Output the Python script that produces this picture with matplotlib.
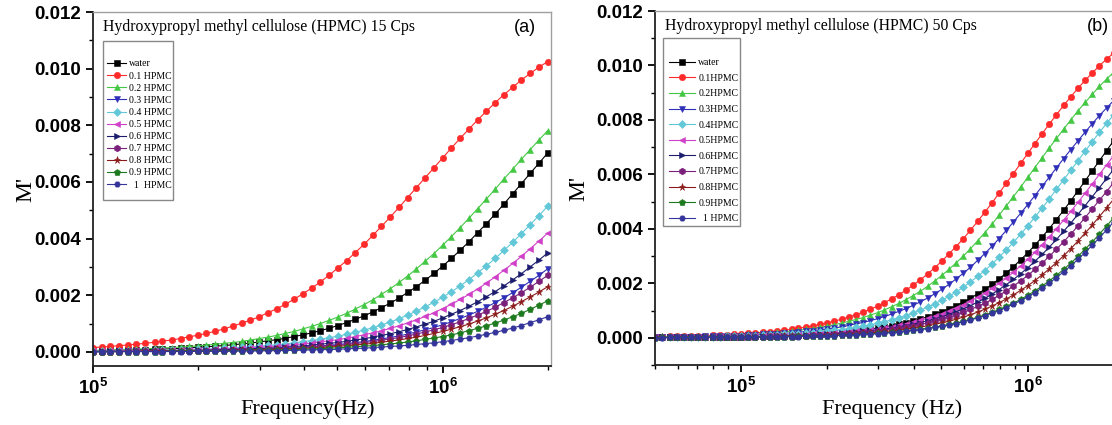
import matplotlib
matplotlib.use('Agg')
import numpy as np
from matplotlib import pyplot as plt
from matplotlib.patches import Rectangle
from matplotlib.ticker import LogLocator, NullFormatter, MultipleLocator, FormatStrFormatter

# Frequências (kHz) - painel (a)
freq_a = [100, 106, 112, 119, 126, 133, 141, 150, 158, 168, 178, 188, 200, 211, 224, 237, 251, 266,
          282, 299, 316, 335, 355, 376, 398, 422, 447, 473, 501, 531, 562, 596, 631, 668, 708, 750,
          794, 841, 891, 944, 1000, 1059, 1122, 1189, 1259, 1334, 1413, 1496, 1585, 1679, 1778, 1884, 1995]
# Frequências (kHz) - painel (b)
freq_b = [50.1, 53.1, 56.2, 59.6, 63.1, 66.8, 70.8, 75.0, 79.4, 84.1, 89.1, 94.4] + freq_a

labels_a = ['water', '0.1 HPMC', '0.2 HPMC', '0.3 HPMC', '0.4 HPMC', '0.5 HPMC',
            '0.6 HPMC', '0.7 HPMC', '0.8 HPMC', '0.9 HPMC', '  1  HPMC']
labels_b = ['water', '0.1HPMC', '0.2HPMC', '0.3HPMC', '0.4HPMC', '0.5HPMC',
            '0.6HPMC', '0.7HPMC', '0.8HPMC', '0.9HPMC', '  1 HPMC']

# M' (x 1e-3) - 15 Cps
a_water = [0.04, 0.04, 0.05, 0.06, 0.06, 0.07, 0.08, 0.09, 0.10, 0.11, 0.12, 0.14, 0.16, 0.18, 0.20, 0.22, 0.25, 0.28,
           0.31, 0.35, 0.39, 0.43, 0.48, 0.54, 0.60, 0.67, 0.75, 0.83, 0.93, 1.03, 1.15, 1.27, 1.41, 1.56, 1.72, 1.90,
           2.10, 2.30, 2.53, 2.77, 3.03, 3.30, 3.59, 3.89, 4.21, 4.53, 4.87, 5.22, 5.58, 5.94, 6.30, 6.66, 7.02]
a_01 = [0.15, 0.17, 0.19, 0.22, 0.24, 0.27, 0.30, 0.34, 0.38, 0.42, 0.47, 0.53, 0.59, 0.65, 0.73, 0.81, 0.91, 1.01,
        1.12, 1.24, 1.38, 1.52, 1.68, 1.86, 2.05, 2.25, 2.47, 2.70, 2.96, 3.22, 3.50, 3.80, 4.11, 4.43, 4.76, 5.10,
        5.45, 5.80, 6.15, 6.50, 6.85, 7.20, 7.54, 7.87, 8.19, 8.50, 8.80, 9.08, 9.34, 9.60, 9.83, 10.05, 10.25]
a_02 = [0.05, 0.06, 0.07, 0.08, 0.09, 0.10, 0.11, 0.12, 0.14, 0.15, 0.17, 0.19, 0.21, 0.24, 0.27, 0.30, 0.33, 0.37,
        0.42, 0.47, 0.52, 0.58, 0.65, 0.72, 0.81, 0.90, 1.00, 1.11, 1.23, 1.36, 1.51, 1.67, 1.84, 2.03, 2.23, 2.45,
        2.68, 2.93, 3.20, 3.47, 3.77, 4.07, 4.39, 4.72, 5.06, 5.40, 5.75, 6.10, 6.45, 6.80, 7.14, 7.48, 7.81]
a_03 = [0.01, 0.01, 0.01, 0.02, 0.02, 0.02, 0.02, 0.02, 0.03, 0.03, 0.03, 0.04, 0.04, 0.05, 0.05, 0.06, 0.07, 0.07,
        0.08, 0.09, 0.11, 0.12, 0.13, 0.15, 0.17, 0.19, 0.21, 0.23, 0.26, 0.29, 0.33, 0.36, 0.41, 0.45, 0.51, 0.56,
        0.63, 0.70, 0.78, 0.86, 0.96, 1.06, 1.18, 1.30, 1.43, 1.58, 1.74, 1.91, 2.09, 2.28, 2.49, 2.70, 2.93]
a_04 = [0.02, 0.03, 0.03, 0.03, 0.04, 0.04, 0.05, 0.05, 0.06, 0.06, 0.07, 0.08, 0.09, 0.10, 0.11, 0.13, 0.14, 0.16,
        0.18, 0.20, 0.23, 0.25, 0.28, 0.32, 0.36, 0.40, 0.44, 0.50, 0.55, 0.62, 0.69, 0.77, 0.85, 0.95, 1.05, 1.17,
        1.30, 1.44, 1.59, 1.75, 1.93, 2.12, 2.33, 2.55, 2.79, 3.04, 3.30, 3.58, 3.87, 4.17, 4.49, 4.81, 5.14]
a_05 = [0.02, 0.02, 0.02, 0.03, 0.03, 0.03, 0.04, 0.04, 0.04, 0.05, 0.06, 0.06, 0.07, 0.08, 0.09, 0.10, 0.11, 0.13,
        0.14, 0.16, 0.18, 0.20, 0.22, 0.25, 0.28, 0.31, 0.35, 0.39, 0.43, 0.48, 0.54, 0.60, 0.67, 0.74, 0.83, 0.92,
        1.02, 1.13, 1.25, 1.38, 1.53, 1.68, 1.85, 2.03, 2.22, 2.43, 2.65, 2.88, 3.12, 3.37, 3.64, 3.91, 4.19]
a_06 = [0.01, 0.02, 0.02, 0.02, 0.02, 0.02, 0.03, 0.03, 0.03, 0.04, 0.04, 0.05, 0.05, 0.06, 0.07, 0.08, 0.09, 0.10,
        0.11, 0.12, 0.13, 0.15, 0.17, 0.19, 0.21, 0.24, 0.27, 0.30, 0.33, 0.37, 0.42, 0.46, 0.52, 0.58, 0.64, 0.71,
        0.79, 0.88, 0.98, 1.08, 1.20, 1.33, 1.46, 1.61, 1.77, 1.95, 2.13, 2.33, 2.54, 2.76, 3.00, 3.24, 3.49]
a_07 = [0.01, 0.01, 0.01, 0.01, 0.02, 0.02, 0.02, 0.02, 0.02, 0.03, 0.03, 0.03, 0.04, 0.04, 0.05, 0.05, 0.06, 0.07,
        0.07, 0.08, 0.09, 0.11, 0.12, 0.13, 0.15, 0.17, 0.19, 0.21, 0.23, 0.26, 0.29, 0.33, 0.36, 0.41, 0.45, 0.51,
        0.56, 0.63, 0.70, 0.78, 0.86, 0.96, 1.06, 1.18, 1.30, 1.43, 1.58, 1.74, 1.91, 2.09, 2.28, 2.49, 2.70]
a_08 = [0.01, 0.01, 0.01, 0.01, 0.01, 0.01, 0.02, 0.02, 0.02, 0.02, 0.02, 0.03, 0.03, 0.03, 0.04, 0.04, 0.05, 0.06,
        0.06, 0.07, 0.08, 0.09, 0.10, 0.11, 0.12, 0.14, 0.15, 0.17, 0.19, 0.22, 0.24, 0.27, 0.30, 0.34, 0.38, 0.42,
        0.47, 0.52, 0.58, 0.65, 0.72, 0.80, 0.89, 0.98, 1.09, 1.20, 1.33, 1.46, 1.61, 1.77, 1.94, 2.11, 2.30]
a_09 = [0.01, 0.01, 0.01, 0.01, 0.01, 0.01, 0.01, 0.01, 0.01, 0.02, 0.02, 0.02, 0.02, 0.03, 0.03, 0.03, 0.04, 0.04,
        0.05, 0.05, 0.06, 0.06, 0.07, 0.08, 0.09, 0.10, 0.11, 0.13, 0.14, 0.16, 0.18, 0.20, 0.22, 0.25, 0.28, 0.31,
        0.35, 0.39, 0.44, 0.49, 0.54, 0.60, 0.67, 0.75, 0.83, 0.92, 1.02, 1.12, 1.24, 1.36, 1.50, 1.65, 1.80]
a_10 = [0.00, 0.00, 0.00, 0.01, 0.01, 0.01, 0.01, 0.01, 0.01, 0.01, 0.01, 0.01, 0.02, 0.02, 0.02, 0.02, 0.02, 0.03,
        0.03, 0.03, 0.04, 0.04, 0.05, 0.05, 0.06, 0.07, 0.08, 0.08, 0.09, 0.11, 0.12, 0.13, 0.15, 0.17, 0.19, 0.21,
        0.23, 0.26, 0.29, 0.32, 0.36, 0.40, 0.45, 0.50, 0.56, 0.62, 0.69, 0.76, 0.84, 0.93, 1.03, 1.13, 1.24]

# M' (x 1e-3) - 50 Cps
b_water = [0.01, 0.01, 0.01, 0.01, 0.02, 0.02, 0.02, 0.02, 0.03, 0.03, 0.03, 0.04, 0.04, 0.05, 0.05, 0.06, 0.06,
           0.07, 0.08, 0.09, 0.10, 0.11, 0.13, 0.14, 0.16, 0.18, 0.20, 0.23, 0.25, 0.28, 0.32, 0.36, 0.40, 0.45,
           0.50, 0.56, 0.62, 0.69, 0.77, 0.86, 0.96, 1.06, 1.18, 1.31, 1.45, 1.61, 1.78, 1.96, 2.16, 2.38, 2.61,
           2.86, 3.12, 3.40, 3.70, 4.01, 4.34, 4.68, 5.03, 5.39, 5.76, 6.13, 6.50, 6.87, 7.24]
b_01 = [0.04, 0.04, 0.05, 0.05, 0.06, 0.06, 0.07, 0.08, 0.09, 0.10, 0.11, 0.13, 0.14, 0.16, 0.18, 0.20, 0.22,
        0.25, 0.28, 0.31, 0.35, 0.39, 0.44, 0.49, 0.55, 0.61, 0.68, 0.76, 0.85, 0.94, 1.05, 1.16, 1.29, 1.43,
        1.58, 1.75, 1.93, 2.13, 2.34, 2.57, 2.81, 3.08, 3.35, 3.64, 3.95, 4.27, 4.61, 4.95, 5.31, 5.67, 6.03,
        6.40, 6.77, 7.13, 7.49, 7.85, 8.19, 8.53, 8.85, 9.16, 9.45, 9.72, 9.99, 10.23, 10.46]
b_02 = [0.03, 0.03, 0.04, 0.04, 0.04, 0.05, 0.06, 0.06, 0.07, 0.08, 0.09, 0.10, 0.11, 0.12, 0.14, 0.16, 0.17,
        0.20, 0.22, 0.25, 0.27, 0.31, 0.34, 0.38, 0.43, 0.48, 0.54, 0.60, 0.67, 0.74, 0.83, 0.92, 1.02, 1.14,
        1.26, 1.40, 1.55, 1.71, 1.89, 2.08, 2.29, 2.51, 2.75, 3.00, 3.27, 3.56, 3.86, 4.17, 4.50, 4.84, 5.18,
        5.53, 5.89, 6.25, 6.61, 6.97, 7.32, 7.66, 8.00, 8.33, 8.64, 8.94, 9.23, 9.50, 9.75]
b_03 = [0.02, 0.02, 0.03, 0.03, 0.03, 0.04, 0.04, 0.05, 0.05, 0.06, 0.07, 0.07, 0.08, 0.09, 0.10, 0.12, 0.13,
        0.15, 0.16, 0.18, 0.21, 0.23, 0.26, 0.29, 0.32, 0.36, 0.40, 0.45, 0.51, 0.56, 0.63, 0.70, 0.78, 0.87,
        0.97, 1.07, 1.19, 1.32, 1.46, 1.61, 1.78, 1.96, 2.16, 2.37, 2.59, 2.84, 3.09, 3.36, 3.64, 3.94, 4.25,
        4.57, 4.89, 5.22, 5.56, 5.90, 6.24, 6.58, 6.91, 7.23, 7.55, 7.86, 8.16, 8.44, 8.71]
b_04 = [0.02, 0.02, 0.02, 0.02, 0.02, 0.03, 0.03, 0.03, 0.04, 0.04, 0.05, 0.05, 0.06, 0.07, 0.08, 0.09, 0.10,
        0.11, 0.12, 0.14, 0.15, 0.17, 0.19, 0.22, 0.24, 0.27, 0.30, 0.34, 0.38, 0.42, 0.47, 0.53, 0.59, 0.65,
        0.73, 0.81, 0.91, 1.01, 1.12, 1.24, 1.38, 1.52, 1.68, 1.86, 2.05, 2.25, 2.47, 2.70, 2.96, 3.22, 3.50,
        3.80, 4.11, 4.43, 4.76, 5.10, 5.45, 5.80, 6.15, 6.50, 6.85, 7.20, 7.54, 7.87, 8.19]
b_05 = [0.01, 0.01, 0.01, 0.01, 0.02, 0.02, 0.02, 0.02, 0.02, 0.03, 0.03, 0.03, 0.04, 0.04, 0.05, 0.05, 0.06,
        0.07, 0.08, 0.08, 0.09, 0.11, 0.12, 0.13, 0.15, 0.17, 0.19, 0.21, 0.24, 0.26, 0.29, 0.33, 0.37, 0.41,
        0.46, 0.51, 0.57, 0.64, 0.71, 0.79, 0.88, 0.98, 1.09, 1.21, 1.34, 1.49, 1.64, 1.81, 2.00, 2.19, 2.41,
        2.64, 2.88, 3.14, 3.42, 3.71, 4.01, 4.32, 4.64, 4.97, 5.31, 5.65, 6.00, 6.35, 6.69]
b_06 = [0.01, 0.01, 0.01, 0.01, 0.01, 0.01, 0.02, 0.02, 0.02, 0.02, 0.03, 0.03, 0.03, 0.04, 0.04, 0.05, 0.05,
        0.06, 0.07, 0.07, 0.08, 0.09, 0.10, 0.12, 0.13, 0.15, 0.16, 0.18, 0.20, 0.23, 0.26, 0.29, 0.32, 0.36,
        0.40, 0.45, 0.50, 0.56, 0.62, 0.69, 0.77, 0.86, 0.96, 1.06, 1.18, 1.31, 1.45, 1.60, 1.77, 1.95, 2.14,
        2.35, 2.57, 2.81, 3.06, 3.33, 3.61, 3.91, 4.21, 4.53, 4.85, 5.18, 5.51, 5.85, 6.19]
b_07 = [0.01, 0.01, 0.01, 0.01, 0.01, 0.01, 0.01, 0.02, 0.02, 0.02, 0.02, 0.03, 0.03, 0.03, 0.04, 0.04, 0.05,
        0.05, 0.06, 0.06, 0.07, 0.08, 0.09, 0.10, 0.11, 0.13, 0.14, 0.16, 0.18, 0.20, 0.22, 0.25, 0.28, 0.31,
        0.35, 0.39, 0.44, 0.49, 0.54, 0.61, 0.68, 0.75, 0.84, 0.93, 1.04, 1.15, 1.27, 1.41, 1.56, 1.72, 1.90,
        2.09, 2.29, 2.51, 2.74, 2.99, 3.25, 3.52, 3.81, 4.10, 4.41, 4.73, 5.05, 5.37, 5.70]
b_08 = [0.01, 0.01, 0.01, 0.01, 0.01, 0.01, 0.01, 0.01, 0.01, 0.02, 0.02, 0.02, 0.02, 0.03, 0.03, 0.03, 0.04,
        0.04, 0.05, 0.05, 0.06, 0.06, 0.07, 0.08, 0.09, 0.10, 0.11, 0.13, 0.14, 0.16, 0.18, 0.20, 0.23, 0.25,
        0.28, 0.32, 0.35, 0.39, 0.44, 0.49, 0.55, 0.61, 0.68, 0.76, 0.85, 0.94, 1.05, 1.16, 1.29, 1.42, 1.57,
        1.74, 1.91, 2.10, 2.31, 2.53, 2.76, 3.01, 3.27, 3.55, 3.84, 4.14, 4.45, 4.77, 5.09]
b_09 = [0.00, 0.01, 0.01, 0.01, 0.01, 0.01, 0.01, 0.01, 0.01, 0.01, 0.01, 0.02, 0.02, 0.02, 0.02, 0.03, 0.03,
        0.03, 0.04, 0.04, 0.05, 0.05, 0.06, 0.06, 0.07, 0.08, 0.09, 0.10, 0.11, 0.13, 0.14, 0.16, 0.18, 0.20,
        0.22, 0.25, 0.28, 0.31, 0.35, 0.39, 0.44, 0.49, 0.54, 0.61, 0.68, 0.75, 0.84, 0.93, 1.04, 1.15, 1.27,
        1.41, 1.56, 1.72, 1.90, 2.09, 2.29, 2.51, 2.74, 2.99, 3.25, 3.52, 3.81, 4.10, 4.41]
b_10 = [0.00, 0.00, 0.01, 0.01, 0.01, 0.01, 0.01, 0.01, 0.01, 0.01, 0.01, 0.02, 0.02, 0.02, 0.02, 0.02, 0.03,
        0.03, 0.03, 0.04, 0.04, 0.05, 0.05, 0.06, 0.07, 0.08, 0.09, 0.10, 0.11, 0.12, 0.14, 0.15, 0.17, 0.19,
        0.22, 0.24, 0.27, 0.30, 0.34, 0.38, 0.42, 0.47, 0.52, 0.59, 0.65, 0.73, 0.81, 0.90, 1.00, 1.11, 1.23,
        1.36, 1.50, 1.66, 1.83, 2.01, 2.21, 2.42, 2.64, 2.88, 3.13, 3.40, 3.67, 3.96, 4.26]

series_a = [a_water, a_01, a_02, a_03, a_04, a_05, a_06, a_07, a_08, a_09, a_10]
series_b = [b_water, b_01, b_02, b_03, b_04, b_05, b_06, b_07, b_08, b_09, b_10]

# Estilo (cores e símbolos no padrão Origin)
cores = ['#000000', '#FF2A2A', '#44C844', '#2E2EB8', '#62C8D8', '#D040C8',
         '#1C1C6E', '#7A1F7A', '#8B1A1A', '#1E7A1E', '#34349A']
simbolos = ['s', 'o', '^', 'v', 'D', '<', '>', 'h', '*', 'p', 'H']
tamanhos = [4.0, 4.6, 4.8, 4.8, 3.9, 4.8, 4.8, 4.8, 5.2, 4.8, 4.3]

plt.rcParams['font.family'] = ['Liberation Sans', 'DejaVu Sans']
plt.rcParams['font.weight'] = 'bold'
plt.rcParams['mathtext.fontset'] = 'custom'
plt.rcParams['mathtext.bf'] = 'Liberation Sans:bold'
plt.rcParams['mathtext.rm'] = 'Liberation Sans:bold'

fig = plt.figure(figsize=(11.12, 4.25), dpi=100)
ax_a = fig.add_axes([0.0836, 0.1388, 0.4119, 0.8329])
ax_b = fig.add_axes([0.589, 0.1412, 0.4128, 0.8329])

serif = 'Liberation Serif'

def desenha(ax, freq, series, labels, xlim, ylim, titulo, letra, caixa, leg_pos, leg_sp, leg_hl,
            xlab, xlab_pos, ylab_x, letra_x):
    f = np.array(freq) * 1e3
    for y, c, m, ms, lb in zip(series, cores, simbolos, tamanhos, labels):
        ax.plot(f, np.array(y) * 1e-3, color=c, marker=m, markersize=ms, markeredgewidth=0.4,
                markeredgecolor=c, lw=0.8, label=lb)
    ax.set_xscale('log')
    ax.set_xlim(*xlim)
    ax.set_ylim(*ylim)
    ax.set_xticks([1e5, 1e6], labels=[r'$\mathbf{10^{5}}$', r'$\mathbf{10^{6}}$'])
    ax.xaxis.set_minor_locator(LogLocator(base=10, subs=np.arange(2, 10)))
    ax.xaxis.set_minor_formatter(NullFormatter())
    ax.yaxis.set_major_locator(MultipleLocator(0.002))
    ax.yaxis.set_minor_locator(MultipleLocator(0.001))
    ax.yaxis.set_major_formatter(FormatStrFormatter('%.3f'))
    ax.tick_params(which='major', direction='out', length=5, width=1.3, labelsize=13.5)
    ax.tick_params(which='minor', direction='out', length=3, width=1.0)
    ax.tick_params(top=False, right=False, which='both')
    for s in ['left', 'bottom']:
        ax.spines[s].set_linewidth(1.3)
        ax.spines[s].set_color('#222222')
    for s in ['top', 'right']:
        ax.spines[s].set_linewidth(1.0)
        ax.spines[s].set_color('#A0A0A0')
    ax.set_ylabel("M'", fontfamily=serif, fontweight='normal', fontsize=17)
    ax.yaxis.set_label_coords(ylab_x, 0.5)
    ax.set_xlabel(xlab, fontfamily=serif, fontweight='normal', fontsize=16)
    ax.xaxis.set_label_coords(*xlab_pos)
    ax.text(0.022, 0.958, titulo, transform=ax.transAxes, fontfamily=serif, fontweight='normal',
            fontsize=11.3, va='center', ha='left')
    ax.text(letra_x, 0.955, letra, transform=ax.transAxes, fontweight='normal', fontsize=13,
            va='center', ha='center')
    # caixa da legenda (estilo Origin, com folga no topo)
    x0, y0, x1, y1 = caixa
    ax.add_patch(Rectangle((x0, y0), x1 - x0, y1 - y0, transform=ax.transAxes, facecolor='white',
                           edgecolor='#888888', lw=1.0, zorder=4))
    leg = ax.legend(loc='upper left', bbox_to_anchor=leg_pos, prop={'family': serif, 'size': 7, 'weight': 'normal'},
                    frameon=False, handlelength=leg_hl, handletextpad=0.3,
                    labelspacing=leg_sp, borderpad=0, borderaxespad=0)
    leg.set_zorder(5)

desenha(ax_a, freq_a, series_a, labels_a, (1e5, 2.04e6), (-0.0005, 0.012),
        'Hydroxypropyl methyl cellulose (HPMC) 15 Cps', '(a)',
        (0.0218, 0.469, 0.1747, 0.918), (0.0306, 0.866), 0.32, 2.0,
        'Frequency(Hz)', (0.469, -0.094), -0.124, 0.943)
desenha(ax_b, freq_b, series_b, labels_b, (5e4, 2e6), (-0.001, 0.012),
        'Hydroxypropyl methyl cellulose (HPMC) 50 Cps', '(b)',
        (0.0174, 0.393, 0.185, 0.924), (0.0305, 0.867), 0.68, 2.7,
        'Frequency (Hz)', (0.516, -0.097), -0.142, 0.966)

fig.savefig('out.png', dpi=100)
